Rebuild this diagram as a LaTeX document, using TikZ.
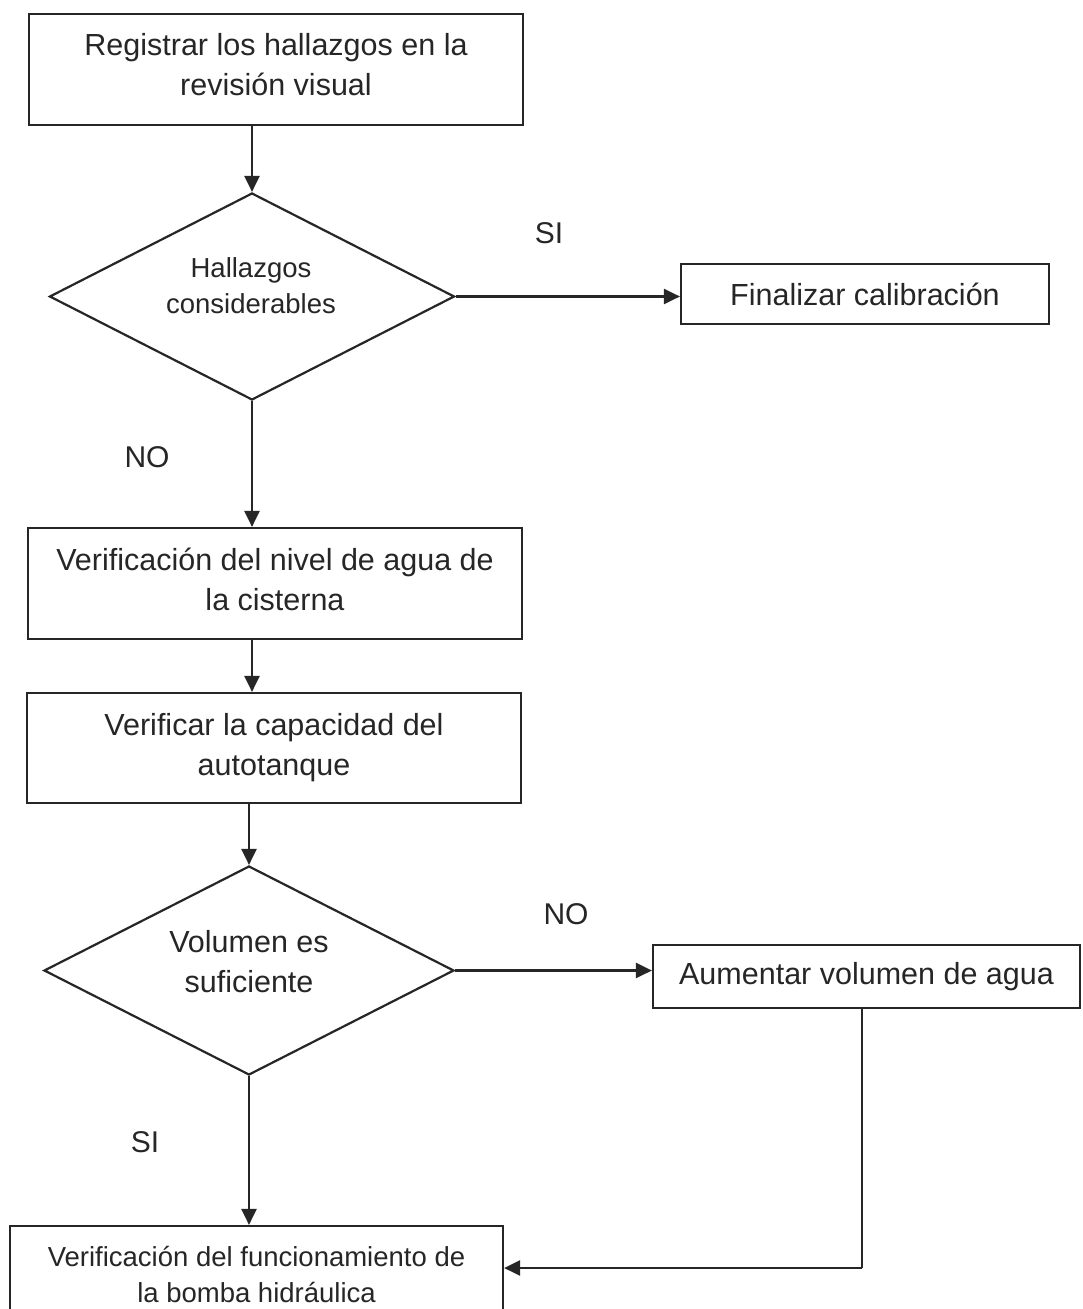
\documentclass[tikz,border=0pt]{standalone}
\usepackage{fontspec}
\setmainfont{Liberation Sans}
\usetikzlibrary{shapes.geometric,arrows.meta}
\definecolor{ink}{HTML}{262626}
\tikzset{
  stepbox/.style={draw=ink, line width=2.2pt, rectangle, inner sep=0pt, align=center,
    text=ink, font=\fontsize{30.5}{40}\selectfont},
  smallbox/.style={stepbox, font=\fontsize{27.5}{36}\selectfont},
  decision/.style={draw=ink, line width=2.2pt, diamond, aspect=2, inner sep=0pt},
  dtext/.style={align=center, text=ink, inner sep=0pt},
  tag/.style={text=ink, inner sep=0pt, font=\fontsize{30}{36}\selectfont},
  flow/.style={draw=ink, line width=2.4pt, -{Triangle[length=16pt,width=15pt]}},
  wire/.style={draw=ink, line width=2.4pt}
}
\begin{document}
\begin{tikzpicture}[x=1pt,y=-1pt]
\useasboundingbox (0,0) rectangle (1083,1309);
\fill[white] (0,0) rectangle (1083,1309);
\clip (0,0) rectangle (1083,1309);

% process steps
\node[stepbox, minimum width=494pt, minimum height=111pt] (reg) at (276,69.5)
  {Registrar los hallazgos en la\\revisión visual\\[-30pt]};
\node[decision, minimum width=405pt, minimum height=207pt] (d1) at (252,296.5) {};
\node[dtext, font=\fontsize{27.5}{36}\selectfont] (d1t) at (251,286) {Hallazgos\\considerables};
\node[stepbox, minimum width=368pt, minimum height=60pt] (fin) at (865,294) {Finalizar calibración};
\node[stepbox, minimum width=494pt, minimum height=111pt] (niv) at (275,583.5)
  {Verificación del nivel de agua de\\la cisterna\\[-32pt]};
\node[stepbox, minimum width=494pt, minimum height=110pt] (cap) at (274,748)
  {Verificar la capacidad del\\autotanque};
\node[decision, minimum width=410pt, minimum height=209pt] (d2) at (249,970.5) {};
\node[dtext, font=\fontsize{30.5}{40}\selectfont] (d2t) at (249,962) {Volumen es\\suficiente};
\node[stepbox, minimum width=427pt, minimum height=63pt] (aum) at (866.5,976.5) {Aumentar volumen de agua};
\node[smallbox, minimum width=493pt, minimum height=96pt] (bom) at (256.5,1274)
  {Verificación del funcionamiento de\\la bomba hidráulica};

% branch labels
\node[tag] (si1) at (549,233) {SI};
\node[tag] (no1) at (147,457) {NO};
\node[tag] (no2) at (566,914) {NO};
\node[tag] (si2) at (145,1142) {SI};

% connectors
\draw[flow] (d1.north |- reg.south) -- (d1.north);
\draw[flow] (d1.east) -- (d1.east -| fin.west);
\draw[flow] (d1.south) -- (d1.south |- niv.north);
\draw[flow] (d1.south |- niv.south) -- (d1.south |- cap.north);
\draw[flow] (d2.north |- cap.south) -- (d2.north);
\draw[flow] (d2.east) -- (d2.east -| aum.west);
\draw[flow] (d2.south) -- (d2.south |- bom.north);
\coordinate (turn) at (862,1268);
\draw[wire] (turn |- aum.south) -- (turn);
\draw[flow] (turn) -- (turn -| bom.east);
\end{tikzpicture}
\end{document}
